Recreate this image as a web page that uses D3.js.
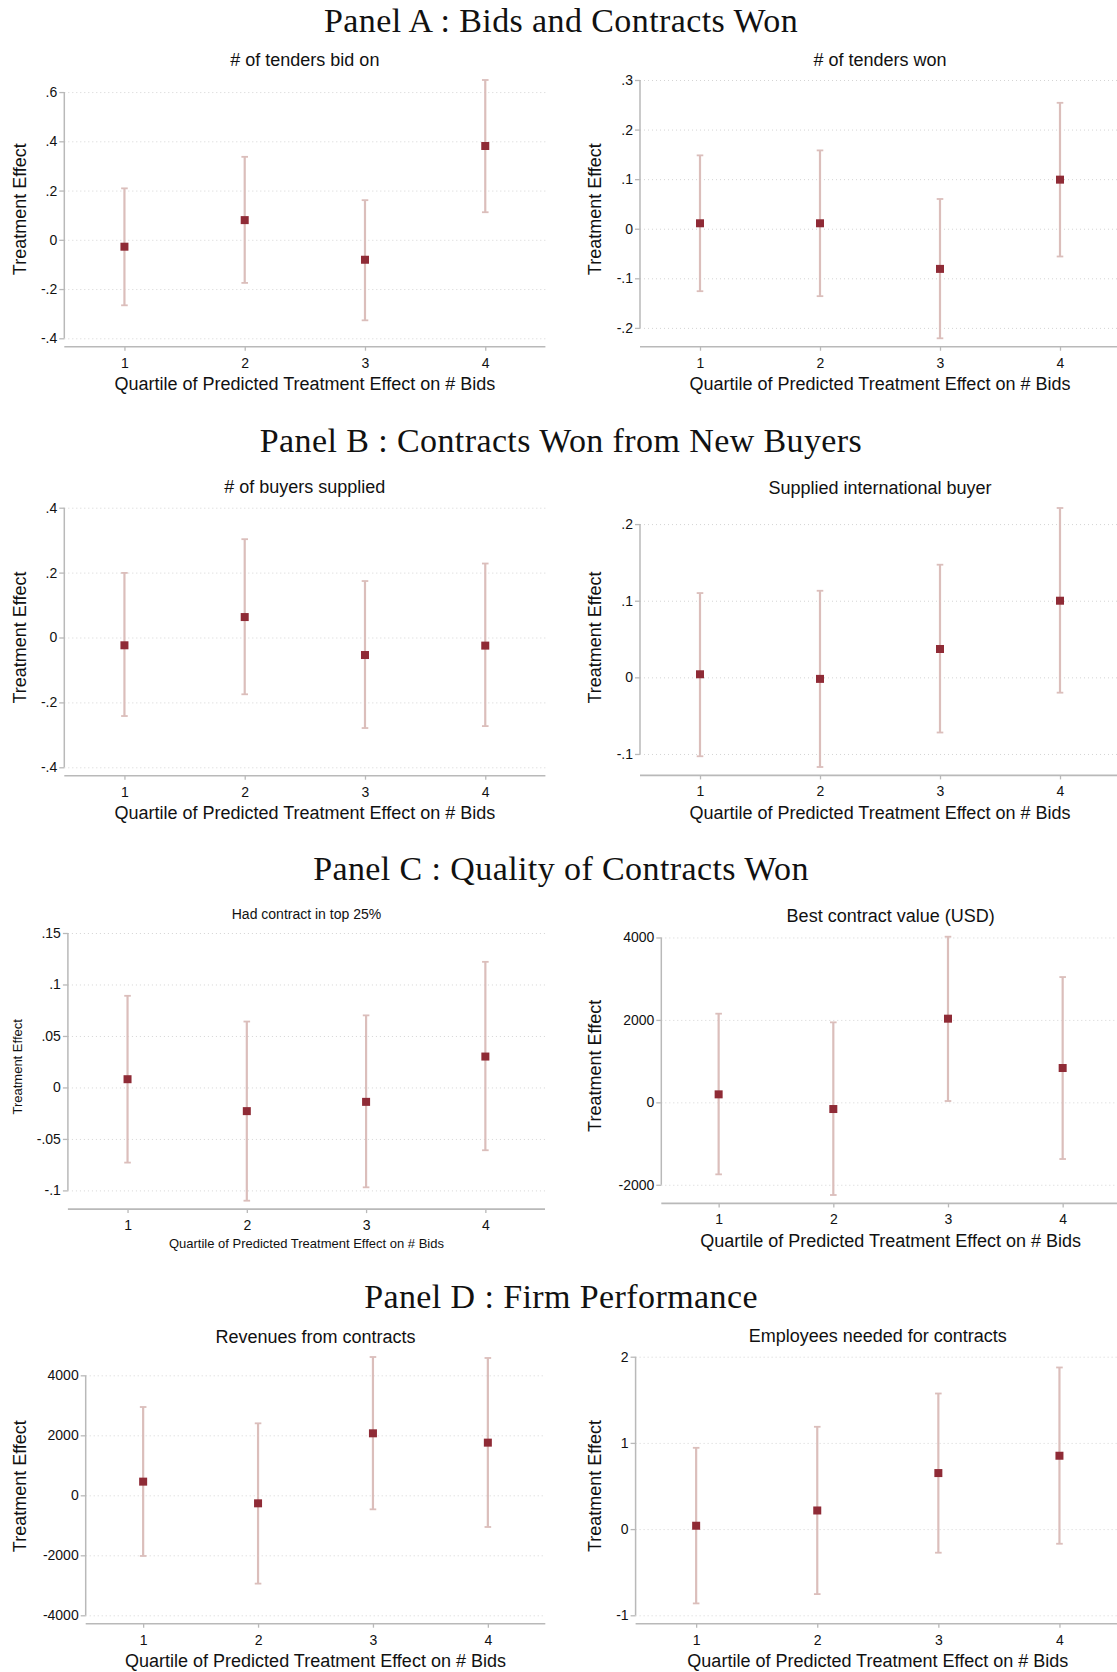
<!DOCTYPE html>
<html>
<head>
<meta charset="utf-8">
<script src="https://cdn.jsdelivr.net/npm/d3@7"></script>
<style>
  body { margin: 0; background: #fff; overflow: hidden; }
  svg { display: block; }
</style>
</head>
<body>
<svg id="fig"></svg>
<script>
// ---- data ----
let quartiles = [1, 2, 3, 4]

let panelTitles = ['Panel A : Bids and Contracts Won', 'Panel B : Contracts Won from New Buyers',
                   'Panel C : Quality of Contracts Won', 'Panel D : Firm Performance']

let bidEst = [-0.028, 0.080, -0.081, 0.381]
let bidLo  = [-0.266, -0.175, -0.327, 0.112]
let bidHi  = [0.209, 0.337, 0.161, 0.649]
let bidTicks = [-0.4, -0.2, 0, 0.2, 0.4, 0.6]
let bidLabels = ['-.4', '-.2', '0', '.2', '.4', '.6']

let wonEst = [0.011, 0.011, -0.081, 0.099]
let wonLo  = [-0.126, -0.136, -0.221, -0.056]
let wonHi  = [0.148, 0.158, 0.060, 0.254]
let wonTicks = [-0.2, -0.1, 0, 0.1, 0.2, 0.3]
let wonLabels = ['-.2', '-.1', '0', '.1', '.2', '.3']

let buyEst = [-0.024, 0.063, -0.054, -0.025]
let buyLo  = [-0.242, -0.175, -0.279, -0.273]
let buyHi  = [0.199, 0.303, 0.174, 0.228]
let buyTicks = [-0.4, -0.2, 0, 0.2, 0.4]
let buyLabels = ['-.4', '-.2', '0', '.2', '.4']

let intlEst = [0.004, -0.002, 0.037, 0.100]
let intlLo  = [-0.103, -0.117, -0.072, -0.020]
let intlHi  = [0.110, 0.113, 0.147, 0.221]
let intlTicks = [-0.1, 0, 0.1, 0.2]
let intlLabels = ['-.1', '0', '.1', '.2']

let topEst = [0.008, -0.023, -0.014, 0.030]
let topLo  = [-0.073, -0.110, -0.097, -0.061]
let topHi  = [0.089, 0.064, 0.070, 0.122]
let topTicks = [-0.1, -0.05, 0, 0.05, 0.1, 0.15]
let topLabels = ['-.1', '-.05', '0', '.05', '.1', '.15']

let bestEst = [194, -162, 2030, 833]
let bestLo  = [-1747, -2248, 32, -1375]
let bestHi  = [2151, 1941, 4019, 3040]
let bestTicks = [-2000, 0, 2000, 4000]
let bestLabels = ['-2000', '0', '2000', '4000']

let revEst = [456, -267, 2067, 1756]
let revLo  = [-2022, -2944, -467, -1056]
let revHi  = [2944, 2400, 4611, 4578]
let revTicks = [-4000, -2000, 0, 2000, 4000]
let revLabels = ['-4000', '-2000', '0', '2000', '4000']

let empEst = [0.039, 0.216, 0.650, 0.851]
let empLo  = [-0.862, -0.754, -0.274, -0.170]
let empHi  = [0.943, 1.187, 1.573, 1.875]
let empTicks = [-1, 0, 1, 2]
let empLabels = ['-1', '0', '1', '2']

// ---- layout ----
let width = 1117
let height = 1672
let sans = '"Liberation Sans", Arial, sans-serif'
let markColor = '#8f2b36'
let barColor = '#dbbebb'
let axisColor = '#b9b9b9'

let panelY = [31.7, 451.7, 880, 1308.3]

let charts = [
  {title: '# of tenders bid on', est: bidEst, lo: bidLo, hi: bidHi, ticks: bidTicks, labels: bidLabels,
   axisX: 64.3, right: 545.4, top: 80, bottom: 338.3, titleSize: 18, labSize: 18, ylabX: 19.6},
  {title: '# of tenders won', est: wonEst, lo: wonLo, hi: wonHi, ticks: wonTicks, labels: wonLabels,
   axisX: 640, right: 1120, top: 80, bottom: 338.3, titleSize: 18, labSize: 18, ylabX: 594.5},
  {title: '# of buyers supplied', est: buyEst, lo: buyLo, hi: buyHi, ticks: buyTicks, labels: buyLabels,
   axisX: 64.3, right: 545.4, top: 507.7, bottom: 767.3, titleSize: 18, labSize: 18, ylabX: 19.6},
  {title: 'Supplied international buyer', est: intlEst, lo: intlLo, hi: intlHi, ticks: intlTicks, labels: intlLabels,
   axisX: 640, right: 1120, top: 508, bottom: 767, titleSize: 18, labSize: 18, ylabX: 594.5},
  {title: 'Had contract in top 25%', est: topEst, lo: topLo, hi: topHi, ticks: topTicks, labels: topLabels,
   axisX: 67.9, right: 545, top: 933, bottom: 1200.7, titleSize: 14, labSize: 13, ylabX: 17, xlabOff: 38.7},
  {title: 'Best contract value (USD)', est: bestEst, lo: bestLo, hi: bestHi, ticks: bestTicks, labels: bestLabels,
   axisX: 661.3, right: 1120, top: 936.7, bottom: 1195, titleSize: 18, labSize: 18, ylabX: 594.5},
  {title: 'Revenues from contracts', est: revEst, lo: revLo, hi: revHi, ticks: revTicks, labels: revLabels,
   axisX: 85.7, right: 545.3, top: 1357, bottom: 1615.3, titleSize: 18, labSize: 18, ylabX: 19.6},
  {title: 'Employees needed for contracts', est: empEst, lo: empLo, hi: empHi, ticks: empTicks, labels: empLabels,
   axisX: 635.6, right: 1120, top: 1356.7, bottom: 1615.3, titleSize: 18, labSize: 18, ylabX: 594.5}
]

let svg = d3.select('#fig')
    .attr('width', width)
    .attr('height', height)
    .style('background', '#fff')

// panel headings
svg.selectAll('.panel-title')
    .data(panelTitles)
    .enter()
    .append('text')
    .attr('class', 'panel-title')
    .attr('x', 561)
    .attr('y', (d, i) => panelY[i])
    .attr('text-anchor', 'middle')
    .style('font-family', '"Liberation Serif", "Times New Roman", serif')
    .style('font-size', '34px')
    .style('letter-spacing', '0.4px')
    .style('fill', '#111')
    .text(d => d)

let drawChart = (c) => {
    let g = svg.append('g')
    let xscale = d3.scaleLinear().domain([0.5, 4.5]).range([c.axisX, c.right])
    let ext = d3.extent(c.ticks.concat(c.lo, c.hi))
    let yscale = d3.scaleLinear().domain(ext).range([c.bottom, c.top])
    let base = c.bottom + 8.4
    let rows = quartiles.map((q, i) => ({q: q, est: c.est[i], lo: c.lo[i], hi: c.hi[i]}))

    // dotted gridlines
    g.append('g')
        .attr('transform', 'translate(' + c.axisX + ',0)')
        .call(d3.axisLeft(yscale).tickValues(c.ticks).tickSize(-(c.right - c.axisX)).tickFormat(''))
        .call(s => s.select('.domain').remove())
        .selectAll('line')
        .attr('stroke', '#d4d4d4')
        .attr('stroke-width', 1)
        .attr('stroke-dasharray', '1,3')

    // y axis
    let yAxis = d3.axisLeft(yscale)
        .tickValues(c.ticks)
        .tickSize(5)
        .tickPadding(2)
        .tickFormat((d, i) => c.labels[i])
    let ya = g.append('g')
        .attr('transform', 'translate(' + c.axisX + ',0)')
        .call(yAxis)
    ya.select('.domain').remove()
    ya.selectAll('line').attr('stroke', axisColor).attr('stroke-width', 1.3)
    ya.selectAll('text').style('font-family', sans).style('font-size', '14px').style('fill', '#111')
    g.append('line')
        .attr('x1', c.axisX).attr('x2', c.axisX)
        .attr('y1', yscale(d3.min(c.ticks))).attr('y2', yscale(d3.max(c.ticks)))
        .attr('stroke', axisColor).attr('stroke-width', 1.5)

    // x axis
    let xAxis = d3.axisBottom(xscale)
        .tickValues(quartiles)
        .tickSize(4)
        .tickPadding(7)
        .tickFormat(d3.format('d'))
    let xa = g.append('g')
        .attr('transform', 'translate(0,' + base + ')')
        .call(xAxis)
    xa.select('.domain').remove()
    xa.selectAll('line').attr('stroke', axisColor).attr('stroke-width', 1.3)
    xa.selectAll('text').style('font-family', sans).style('font-size', '14px').style('fill', '#111')
    g.append('line')
        .attr('x1', c.axisX).attr('x2', c.right)
        .attr('y1', base).attr('y2', base)
        .attr('stroke', axisColor).attr('stroke-width', 1.6)

    // error bars
    g.selectAll('.bar')
        .data(rows)
        .enter()
        .append('line')
        .attr('x1', d => xscale(d.q)).attr('x2', d => xscale(d.q))
        .attr('y1', d => yscale(d.lo)).attr('y2', d => yscale(d.hi))
        .attr('stroke', barColor).attr('stroke-width', 2.2)
    ;['lo', 'hi'].forEach(k => {
        g.selectAll('.cap-' + k)
            .data(rows)
            .enter()
            .append('line')
            .attr('x1', d => xscale(d.q) - 3.3).attr('x2', d => xscale(d.q) + 3.3)
            .attr('y1', d => yscale(d[k])).attr('y2', d => yscale(d[k]))
            .attr('stroke', barColor).attr('stroke-width', 1.8)
    })

    // point estimates
    g.selectAll('.pt')
        .data(rows)
        .enter()
        .append('rect')
        .attr('x', d => xscale(d.q) - 4)
        .attr('y', d => yscale(d.est) - 4)
        .attr('width', 8)
        .attr('height', 8)
        .attr('fill', markColor)

    // titles and labels
    let mid = (c.axisX + Math.min(c.right, 1120)) / 2
    g.append('text')
        .attr('x', mid)
        .attr('y', c.top - 14.3)
        .attr('text-anchor', 'middle')
        .style('font-family', sans)
        .style('font-size', c.titleSize + 'px')
        .style('fill', '#111')
        .text(c.title)
    g.append('text')
        .attr('x', mid)
        .attr('y', base + (c.xlabOff || 43.3))
        .attr('text-anchor', 'middle')
        .style('font-family', sans)
        .style('font-size', c.labSize + 'px')
        .style('fill', '#111')
        .text('Quartile of Predicted Treatment Effect on # Bids')
    g.append('text')
        .attr('transform', 'translate(' + (c.ylabX + c.labSize * 0.36) + ',' + ((c.top + c.bottom) / 2) + ') rotate(-90)')
        .attr('text-anchor', 'middle')
        .style('font-family', sans)
        .style('font-size', c.labSize + 'px')
        .style('fill', '#111')
        .text('Treatment Effect')
}

charts.forEach(drawChart)
</script>
</body>
</html>
